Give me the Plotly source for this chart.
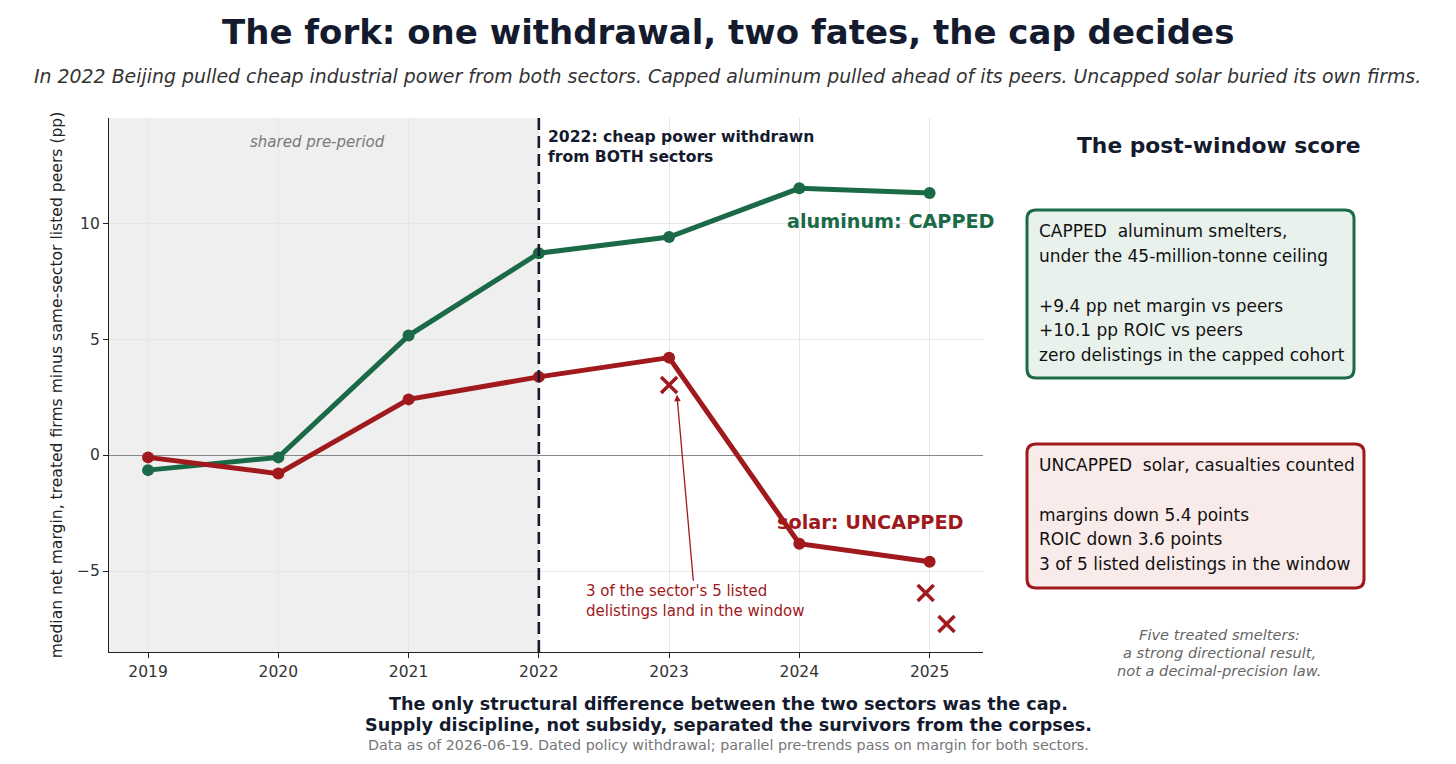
import plotly.graph_objects as go

years = [2019, 2020, 2021, 2022, 2023, 2024, 2025]
aluminum = [-0.65, -0.1, 5.15, 8.7, 9.4, 11.5, 11.3]
solar = [-0.1, -0.8, 2.4, 3.37, 4.2, -3.82, -4.6]
delist_x = [2023.0, 2024.97, 2025.13]
delist_y = [3.02, -5.95, -7.28]
policy_year = 2022
x_ticks = [2019, 2020, 2021, 2022, 2023, 2024, 2025]
y_ticks = [-5, 0, 5, 10]

GREEN = "#1a6a47"
RED = "#a0191c"
NAVY = "#151b2e"
FONT = "DejaVu Sans"

W, H = 1456, 764
L, R, T, B = 109, 983, 118, 652
PW, PH = R - L, B - T


def px(xp):
    return (xp - L) / PW


def py(yp):
    return (B - yp) / PH


fig = go.Figure()
fig.add_trace(go.Scatter(x=years, y=aluminum, mode="lines+markers",
                         line=dict(color=GREEN, width=5),
                         marker=dict(size=12, color=GREEN), showlegend=False))
fig.add_trace(go.Scatter(x=years, y=solar, mode="lines+markers",
                         line=dict(color=RED, width=5),
                         marker=dict(size=12, color=RED), showlegend=False))
fig.add_trace(go.Scatter(x=delist_x, y=delist_y, mode="markers",
                         marker=dict(symbol="x-thin", size=16, color=RED,
                                     line=dict(color=RED, width=3.5)),
                         showlegend=False))

shapes = [
    dict(type="rect", xref="x", yref="paper", x0=2018.7, x1=policy_year, y0=0, y1=1,
         fillcolor="#efefef", line=dict(width=0), layer="below"),
    dict(type="line", xref="x", yref="paper", x0=policy_year, x1=policy_year, y0=0, y1=1,
         line=dict(color=NAVY, width=2.6, dash="12px,6px"), layer="above"),
]


def rounded(x0, y0, x1, y1, r):
    pts = [
        f"M {px(x0 + r)},{py(y0)}",
        f"L {px(x1 - r)},{py(y0)}",
        f"Q {px(x1)},{py(y0)} {px(x1)},{py(y0 + r)}",
        f"L {px(x1)},{py(y1 - r)}",
        f"Q {px(x1)},{py(y1)} {px(x1 - r)},{py(y1)}",
        f"L {px(x0 + r)},{py(y1)}",
        f"Q {px(x0)},{py(y1)} {px(x0)},{py(y1 - r)}",
        f"L {px(x0)},{py(y0 + r)}",
        f"Q {px(x0)},{py(y0)} {px(x0 + r)},{py(y0)}",
        "Z",
    ]
    return " ".join(pts)


shapes.append(dict(type="path", xref="paper", yref="paper",
                   path=rounded(1027, 210, 1354, 378, 9),
                   fillcolor="#e9f1ec", line=dict(color=GREEN, width=3)))
shapes.append(dict(type="path", xref="paper", yref="paper",
                   path=rounded(1027, 444, 1364, 588, 9),
                   fillcolor="#f9ebe9", line=dict(color=RED, width=3)))

ann = []


def ptext(text, xp, yp, size, color, bold=False, italic=False, xanchor="center"):
    t = f"<b>{text}</b>" if bold else text
    t = f"<i>{t}</i>" if italic else t
    ann.append(dict(text=t, xref="paper", yref="paper", x=px(xp), y=py(yp),
                    xanchor=xanchor, yanchor="middle", showarrow=False,
                    font=dict(family=FONT, size=size, color=color)))


ptext("The fork: one withdrawal, two fates, the cap decides", 728, 32, 34, NAVY, bold=True)
ptext("In 2022 Beijing pulled cheap industrial power from both sectors. Capped aluminum pulled ahead of its peers. Uncapped solar buried its own firms.",
      727, 76, 18.9, "#333333", italic=True)

ptext("The post-window score", 1219, 145, 21.8, NAVY, bold=True)

box1 = [("CAPPED  aluminum smelters,", 231), ("under the 45-million-tonne ceiling", 256),
        ("+9.4 pp net margin vs peers", 306), ("+10.1 pp ROIC vs peers", 330),
        ("zero delistings in the capped cohort", 355)]
for t, yp in box1:
    ptext(t, 1037, yp, 17, "#111111", xanchor="left")

box2 = [("UNCAPPED  solar, casualties counted", 465), ("margins down 5.4 points", 515),
        ("ROIC down 3.6 points", 539), ("3 of 5 listed delistings in the window", 564)]
for t, yp in box2:
    ptext(t, 1037, yp, 17, "#111111", xanchor="left")

for t, yp in [("Five treated smelters:", 634), ("a strong directional result,", 652),
              ("not a decimal-precision law.", 670)]:
    ptext(t, 1219, yp, 14.6, "#666666", italic=True)

ptext("The only structural difference between the two sectors was the cap.", 728, 704, 17.6, NAVY, bold=True)
ptext("Supply discipline, not subsidy, separated the survivors from the corpses.", 728, 725, 17.6, NAVY, bold=True)
ptext("Data as of 2026-06-19. Dated policy withdrawal; parallel pre-trends pass on margin for both sectors.",
      728, 745, 14.3, "#777777")

# in-plot labels (data coordinates)
ann.append(dict(text="<i>shared pre-period</i>", x=2020.3, y=13.5, xref="x", yref="y",
                showarrow=False, font=dict(family=FONT, size=15, color="#7a7a7a")))
ann.append(dict(text="<b>2022: cheap power withdrawn<br>from BOTH sectors</b>", x=policy_year + 0.055,
                y=14.2, xref="x", yref="y", xanchor="left", yanchor="top", align="left",
                showarrow=False, font=dict(family=FONT, size=15.6, color=NAVY)))
ann.append(dict(text="<b>aluminum: CAPPED</b>", x=2024.7, y=10.05, xref="x", yref="y",
                showarrow=False, font=dict(family=FONT, size=19.2, color=GREEN)))
ann.append(dict(text="<b>solar: UNCAPPED</b>", x=2024.55, y=-2.9, xref="x", yref="y",
                showarrow=False, font=dict(family=FONT, size=19.3, color=RED)))
ann.append(dict(text="3 of the sector's 5 listed<br>delistings land in the window",
                x=2023.06, y=2.6, xref="x", yref="y", ax=2023.2, ay=-6.3, axref="x", ayref="y",
                align="left", showarrow=True, arrowhead=2, arrowsize=1, arrowwidth=1.3,
                arrowcolor=RED, font=dict(family=FONT, size=15, color=RED)))

fig.update_layout(
    width=W, height=H, margin=dict(l=L, r=W - R, t=T, b=H - B),
    paper_bgcolor="white", plot_bgcolor="white",
    font=dict(family=FONT, color="#333333"),
    shapes=shapes, annotations=ann,
    xaxis=dict(range=[2018.7, 2025.41], tickvals=x_ticks, ticktext=[str(v) for v in x_ticks],
               showgrid=True, gridcolor="#e6e6e6", gridwidth=1,
               showline=True, linecolor="#222222", linewidth=1.3,
               ticks="outside", ticklen=5, tickcolor="#222222",
               tickfont=dict(family=FONT, size=15.5, color="#333333"), zeroline=False),
    yaxis=dict(range=[-8.49, 14.53], tickvals=y_ticks,
               ticktext=["\u22125", "0", "5", "10"],
               showgrid=True, gridcolor="#e6e6e6", gridwidth=1,
               showline=True, linecolor="#222222", linewidth=1.3,
               ticks="outside", ticklen=5, tickcolor="#222222",
               tickfont=dict(family=FONT, size=15.5, color="#333333"),
               zeroline=True, zerolinecolor="#888888", zerolinewidth=1.3,
               title=dict(text="median net margin, treated firms minus same-sector listed peers (pp)",
                          font=dict(family=FONT, size=15.6, color="#222222"), standoff=10)),
)

fig.write_html("out.html")
